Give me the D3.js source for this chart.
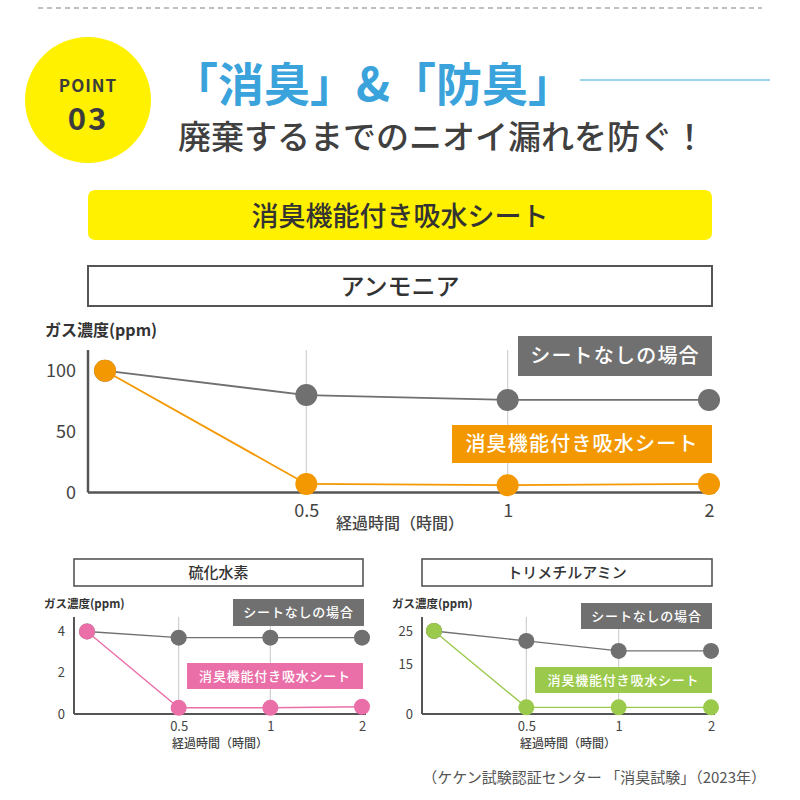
<!DOCTYPE html>
<html>
<head>
<meta charset="utf-8">
<script src="https://cdn.jsdelivr.net/npm/d3@7"></script>
<style>
  body { margin: 0; background: #fff; }
  text { font-family: "Noto Sans CJK JP", "Noto Sans", sans-serif; }
</style>
</head>
<body>
<div id="chart"></div>
<script>
// data
var timeLabels = ["0", "0.5", "1", "2"];

var ammoniaNoSheet = [100, 80, 76, 76];
var ammoniaSheet   = [100, 7, 6, 7];
var ammoniaTicks   = [0, 50, 100];

var h2sNoSheet = [4, 3.7, 3.7, 3.7];
var h2sSheet   = [4, 0.3, 0.3, 0.35];
var h2sTicks   = [0, 2, 4];

var tmaNoSheet = [25, 22, 19, 19];
var tmaSheet   = [25, 2, 2, 2];
var tmaTicks   = [0, 15, 25];

var legendNoSheet = "シートなしの場合";
var legendSheet   = "消臭機能付き吸水シート";

var grayCol = "#707070";

var svg = d3.select("#chart")
    .append("svg")
    .attr("width", 800)
    .attr("height", 800);

// ---- header ----
svg.append("line")
    .attr("x1", 38).attr("x2", 762).attr("y1", 8).attr("y2", 8)
    .attr("stroke", "#aaa").attr("stroke-width", 1.5)
    .attr("stroke-dasharray", "5 4");

svg.append("circle")
    .attr("cx", 88).attr("cy", 100).attr("r", 63)
    .attr("fill", "#fff100");
svg.append("text")
    .attr("x", 88).attr("y", 92)
    .attr("text-anchor", "middle")
    .attr("font-size", 17).attr("font-weight", 700)
    .attr("letter-spacing", 1)
    .attr("fill", "#3c3c3c")
    .text("POINT");
svg.append("text")
    .attr("x", 88).attr("y", 130)
    .attr("text-anchor", "middle")
    .attr("font-size", 31).attr("font-weight", 700)
    .attr("letter-spacing", 2)
    .attr("fill", "#3c3c3c")
    .text("03");

svg.append("text")
    .attr("x", 172).attr("y", 101)
    .attr("font-size", 46).attr("font-weight", 700)
    .attr("fill", "#3ba3db")
    .text("「消臭」&「防臭」");
svg.append("line")
    .attr("x1", 580).attr("x2", 770).attr("y1", 80).attr("y2", 80)
    .attr("stroke", "#7cc3e6").attr("stroke-width", 1.5);

svg.append("text")
    .attr("x", 178).attr("y", 149)
    .attr("font-size", 33).attr("font-weight", 500)
    .attr("fill", "#404040")
    .text("廃棄するまでのニオイ漏れを防ぐ！");

svg.append("rect")
    .attr("x", 88).attr("y", 190).attr("width", 624).attr("height", 50)
    .attr("rx", 7)
    .attr("fill", "#fff100");
svg.append("text")
    .attr("x", 400).attr("y", 226)
    .attr("text-anchor", "middle")
    .attr("font-size", 27).attr("font-weight", 500)
    .attr("fill", "#333")
    .text("消臭機能付き吸水シート");

// ---- one gas chart ----
function drawChart(c) {
    var g = svg.append("g");

    // title box
    g.append("rect")
        .attr("x", c.left).attr("y", c.titleY)
        .attr("width", c.right - c.left).attr("height", c.titleH)
        .attr("fill", "#fff").attr("stroke", "#555").attr("stroke-width", c.big ? 2 : 1.6);
    g.append("text")
        .attr("x", (c.left + c.right) / 2).attr("y", c.titleY + c.titleH / 2)
        .attr("dy", "0.36em")
        .attr("text-anchor", "middle")
        .attr("font-size", c.big ? 24 : 15).attr("font-weight", 500)
        .attr("fill", "#333")
        .text(c.title);

    var x = d3.scalePoint()
        .domain(timeLabels)
        .range([c.x0, c.x1]);
    var y = d3.scaleLinear()
        .domain([0, c.yMax])
        .range([c.bottom, c.top]);

    // vertical guides at 0.5 and 1
    g.selectAll(".grid")
        .data(["0.5", "1"])
        .enter().append("line")
        .attr("x1", function(d) { return x(d); })
        .attr("x2", function(d) { return x(d); })
        .attr("y1", c.top).attr("y2", c.bottom)
        .attr("stroke", "#d0d0d0").attr("stroke-width", 1.2);

    // axes
    var yAxis = d3.axisLeft(y).tickValues(c.ticks).tickFormat(d3.format("~g"))
        .tickSize(0).tickPadding(c.big ? 12 : 9);
    var ya = g.append("g")
        .attr("transform", "translate(" + c.left + ",0)")
        .call(yAxis);
    ya.select(".domain").attr("stroke", "#555").attr("stroke-width", c.big ? 2.5 : 2)
        .attr("d", "M0," + c.top + "V" + c.bottom);
    ya.selectAll("text")
        .attr("font-size", c.big ? 18 : 13)
        .attr("font-family", "Lato, 'Open Sans', sans-serif")
        .attr("fill", "#444");

    var xAxis = d3.axisBottom(x)
        .tickValues(timeLabels.slice(1))
        .tickSize(0).tickPadding(c.big ? 12 : 8);
    var xa = g.append("g")
        .attr("transform", "translate(0," + c.bottom + ")")
        .call(xAxis);
    xa.select(".domain").attr("stroke", "#555").attr("stroke-width", c.big ? 2.5 : 2)
        .attr("d", "M" + c.left + ",0H" + (c.right + 3));
    xa.selectAll("text")
        .attr("font-size", c.big ? 18 : 13)
        .attr("font-family", "Lato, 'Open Sans', sans-serif")
        .attr("fill", "#444");

    // axis captions
    g.append("text")
        .attr("x", c.yLabelX).attr("y", c.yLabelY)
        .attr("font-size", c.big ? 16 : 11.5).attr("font-weight", 700)
        .attr("fill", "#333")
        .text("ガス濃度(ppm)");
    g.append("text")
        .attr("x", c.xLabelX).attr("y", c.xLabelY)
        .attr("text-anchor", "middle")
        .attr("font-size", c.big ? 16 : 12).attr("font-weight", 500)
        .attr("fill", "#444")
        .text("経過時間（時間）");

    // lines
    var line = d3.line()
        .x(function(d, i) { return x(timeLabels[i]); })
        .y(function(d) { return y(d); });

    g.append("path")
        .datum(c.noSheet)
        .attr("d", line)
        .attr("fill", "none").attr("stroke", grayCol).attr("stroke-width", c.big ? 1.8 : 1.4);
    g.append("path")
        .datum(c.sheet)
        .attr("d", line)
        .attr("fill", "none").attr("stroke", c.color).attr("stroke-width", c.big ? 1.8 : 1.4);

    g.selectAll(".pg")
        .data(c.noSheet)
        .enter().append("circle")
        .attr("cx", function(d, i) { return x(timeLabels[i]); })
        .attr("cy", function(d) { return y(d); })
        .attr("r", c.r)
        .attr("fill", grayCol);
    g.selectAll(".pc")
        .data(c.sheet)
        .enter().append("circle")
        .attr("cx", function(d, i) { return x(timeLabels[i]); })
        .attr("cy", function(d) { return y(d); })
        .attr("r", c.r)
        .attr("fill", c.color);

    // legend tags
    function tag(bx, by, bw, bh, fill, txt) {
        g.append("rect")
            .attr("x", bx).attr("y", by).attr("width", bw).attr("height", bh)
            .attr("fill", fill);
        g.append("text")
            .attr("x", bx + bw / 2).attr("y", by + bh / 2)
            .attr("dy", "0.36em")
            .attr("text-anchor", "middle")
            .attr("font-size", c.big ? 20 : 13).attr("font-weight", 500)
            .attr("letter-spacing", c.big ? 1.2 : 0.8)
            .attr("fill", "#fff")
            .text(txt);
    }
    tag(c.tag1[0], c.tag1[1], c.tag1[2], c.tag1[3], grayCol, legendNoSheet);
    tag(c.tag2[0], c.tag2[1], c.tag2[2], c.tag2[3], c.color, legendSheet);
}

drawChart({
    big: true, title: "アンモニア",
    left: 88, right: 712, titleY: 266, titleH: 40,
    x0: 105, x1: 709, top: 350, bottom: 492.5, yMax: 117,
    ticks: ammoniaTicks, noSheet: ammoniaNoSheet, sheet: ammoniaSheet,
    color: "#f39800", r: 11,
    yLabelX: 45, yLabelY: 336, xLabelX: 400, xLabelY: 529,
    tag1: [518, 336, 194, 40], tag2: [452, 425, 260, 38]
});

drawChart({
    big: false, title: "硫化水素",
    left: 74, right: 363, titleY: 559, titleH: 27,
    x0: 87, x1: 362, top: 617, bottom: 714, yMax: 4.7,
    ticks: h2sTicks, noSheet: h2sNoSheet, sheet: h2sSheet,
    color: "#ea6fa8", r: 8,
    yLabelX: 44, yLabelY: 608, xLabelX: 220, xLabelY: 748,
    tag1: [233, 599, 131, 27], tag2: [187, 663, 176, 26]
});

drawChart({
    big: false, title: "トリメチルアミン",
    left: 422, right: 712, titleY: 559, titleH: 27,
    x0: 434, x1: 711, top: 617, bottom: 714, yMax: 29.2,
    ticks: tmaTicks, noSheet: tmaNoSheet, sheet: tmaSheet,
    color: "#9bc94b", r: 8,
    yLabelX: 392, yLabelY: 608, xLabelX: 568, xLabelY: 748,
    tag1: [581, 603, 131, 26], tag2: [535, 667, 177, 26]
});

// source note
svg.append("text")
    .attr("x", 766).attr("y", 783)
    .attr("text-anchor", "end")
    .attr("font-size", 15)
    .attr("fill", "#555")
    .text("（ケケン試験認証センター 「消臭試験」（2023年）");
</script>
</body>
</html>
